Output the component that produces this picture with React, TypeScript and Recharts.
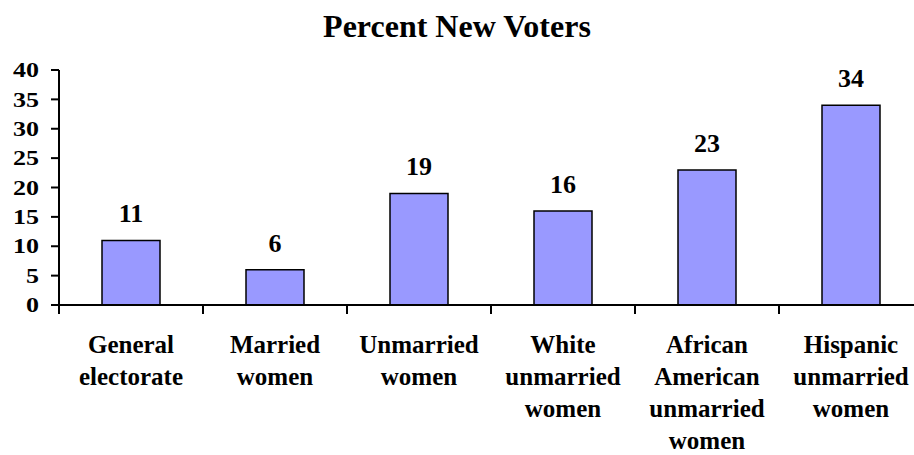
import React from 'react';
import {BarChart, Bar, XAxis, YAxis, LabelList} from 'recharts';

const categories = [
    'General electorate',
    'Married women',
    'Unmarried women',
    'White unmarried women',
    'African American unmarried women',
    'Hispanic unmarried women',
];
const percentNew = [11, 6, 19, 16, 23, 34];
const yTicks = [0, 5, 10, 15, 20, 25, 30, 35, 40];

const FONT = '"Liberation Serif", "Times New Roman", serif';
const CHART_W = 930;
const CHART_H = 455;
const Y_AXIS_W = 59;
const MARGIN = {top: 70, right: 7, bottom: 0, left: 0};
const BAND = (CHART_W - MARGIN.left - MARGIN.right - Y_AXIS_W) / categories.length;

const data = categories.map((name, i) => ({name, value: percentNew[i]}));

const CategoryTick = (props: any) => {
    const {x, y, payload} = props;
    const words = String(payload.value).split(' ');
    return (
        <g>
            <line x1={x - BAND / 2} y1={y} x2={x - BAND / 2} y2={y + 9} stroke="#000" strokeWidth={2}/>
            <text x={x} y={y + 48} textAnchor="middle" fontFamily={FONT} fontWeight="bold" fontSize={25} fill="#000">
                {words.map((w, i) => (
                    <tspan key={i} x={x} dy={i === 0 ? 0 : 32}>{w}</tspan>
                ))}
            </text>
        </g>
    );
};

// the value labels on the left are drawn wider than they are tall
const ValueTick = (props: any) => {
    const {x, y, payload} = props;
    return (
        <text transform={`translate(${x},${y}) scale(1.3,1)`} textAnchor="end" dy="0.36em"
              fontFamily={FONT} fontWeight="bold" fontSize={20} fill="#000">
            {payload.value}
        </text>
    );
};

const App = () => {
    return (
        <div style={{position: 'absolute', left: 0, top: 0, width: 914, height: 455, overflow: 'hidden', background: '#fff'}}>
            <BarChart width={CHART_W} height={CHART_H} data={data} margin={MARGIN}>
                <XAxis dataKey="name" height={150} interval={0} tickLine={false} tickSize={0} tickMargin={0}
                       axisLine={{stroke: '#000', strokeWidth: 2}} tick={<CategoryTick/>}/>
                <YAxis width={Y_AXIS_W} domain={[0, 40]} ticks={yTicks} interval={0}
                       axisLine={{stroke: '#000', strokeWidth: 2}} tickLine={{stroke: '#000', strokeWidth: 2}}
                       tickSize={8} tickMargin={12} tick={<ValueTick/>}/>
                <Bar dataKey="value" barSize={58} fill="#9999ff" stroke="#000" strokeWidth={1.5} isAnimationActive={false}>
                    <LabelList dataKey="value" position="top" offset={18} fill="#000"
                               style={{fontFamily: FONT, fontWeight: 'bold', fontSize: 26}}/>
                </Bar>
            </BarChart>
            <svg width={914} height={60} style={{position: 'absolute', left: 0, top: 0, pointerEvents: 'none'}}>
                <text x={457} y={37} textAnchor="middle" fontFamily={FONT} fontWeight="bold" fontSize={32} fill="#000">
                    Percent New Voters
                </text>
            </svg>
        </div>
    );
};

export default App;
